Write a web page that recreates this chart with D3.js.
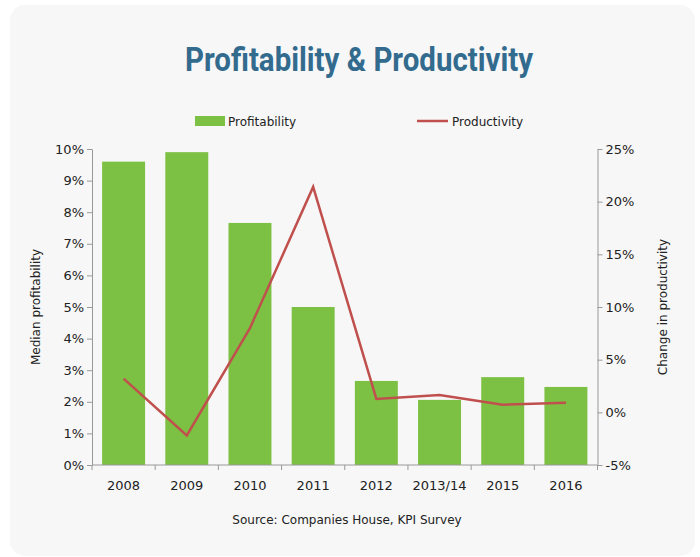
<!DOCTYPE html>
<html>
<head>
<meta charset="utf-8">
<script src="https://cdn.jsdelivr.net/npm/d3@7"></script>
<style>
  body { margin: 0; background: #ffffff; }
  .axis text { font-family: "DejaVu Sans", sans-serif; font-size: 13px; fill: #222; }
  .axis path, .axis line { stroke: #999; }
</style>
</head>
<body>
<div id="chart"></div>
<script>
// chart data
var years = ["2008", "2009", "2010", "2011", "2012", "2013/14", "2015", "2016"];
var profitability = [9.6, 9.9, 7.66, 5.0, 2.66, 2.06, 2.78, 2.47];   // % (left axis)
var productivity = [3.2, -2.2, 8.0, 21.4, 1.27, 1.65, 0.73, 0.92];   // % change (right axis)
var leftTicks = [0, 1, 2, 3, 4, 5, 6, 7, 8, 9, 10];
var rightTicks = [-5, 0, 5, 10, 15, 20, 25];

function init() {
    var w = 700, h = 557;
    var left = 92, right = 597.5, top = 149, bottom = 465;

    var svg = d3.select("#chart").append("svg")
        .attr("width", w)
        .attr("height", h);

    // card background
    svg.append("rect")
        .attr("x", 10).attr("y", 5)
        .attr("width", 685).attr("height", 551)
        .attr("rx", 15)
        .attr("fill", "#f7f7f7");

    // title
    svg.append("text")
        .attr("x", 359).attr("y", 71)
        .attr("text-anchor", "middle")
        .attr("textLength", 348)
        .attr("lengthAdjust", "spacingAndGlyphs")
        .style("font-family", "'Liberation Sans Narrow', 'Roboto', sans-serif")
        .style("font-weight", "bold")
        .style("font-size", "33px")
        .style("fill", "#336b8f")
        .text("Profitability & Productivity");

    // scales
    var x = d3.scaleBand()
        .domain(years)
        .range([left, right])
        .paddingInner(0.32)
        .paddingOuter(0.16);

    var yL = d3.scaleLinear().domain([0, 10]).range([bottom, top]);
    var yR = d3.scaleLinear().domain([-5, 25]).range([bottom, top]);

    // bars
    svg.selectAll(".bar")
        .data(years)
        .enter().append("rect")
        .attr("class", "bar")
        .attr("x", function (d) { return x(d); })
        .attr("width", x.bandwidth())
        .attr("y", function (d, i) { return yL(profitability[i]); })
        .attr("height", function (d, i) { return yL(0) - yL(profitability[i]); })
        .attr("fill", "#7cc143");

    // productivity line
    var line = d3.line()
        .x(function (d, i) { return x(years[i]) + x.bandwidth() / 2; })
        .y(function (d) { return yR(d); });

    svg.append("path")
        .datum(productivity)
        .attr("d", line)
        .attr("fill", "none")
        .attr("stroke", "#c0504d")
        .attr("stroke-width", 2.5);

    // left axis
    var yAxisL = d3.axisLeft(yL)
        .tickValues(leftTicks)
        .tickSize(5)
        .tickSizeOuter(0)
        .tickFormat(function (d) { return d + "%"; });
    svg.append("g")
        .attr("class", "axis")
        .attr("transform", "translate(" + left + ",0)")
        .call(yAxisL);

    // right axis
    var yAxisR = d3.axisRight(yR)
        .tickValues(rightTicks)
        .tickSize(5)
        .tickSizeOuter(0)
        .tickFormat(function (d) { return d + "%"; });
    svg.append("g")
        .attr("class", "axis")
        .attr("transform", "translate(" + right + ",0)")
        .call(yAxisR);

    // bottom axis: labels at band centres, ticks on band boundaries
    var xAxis = d3.axisBottom(x).tickSize(0).tickPadding(16);
    var gx = svg.append("g")
        .attr("class", "axis")
        .attr("transform", "translate(0," + bottom + ")")
        .call(xAxis);
    gx.select(".domain").attr("d", "M" + left + ",0H" + right);

    var bounds = d3.range(years.length + 1).map(function (i) { return left + i * x.step(); });
    gx.selectAll(".bound")
        .data(bounds)
        .enter().append("line")
        .attr("class", "bound")
        .attr("x1", function (d) { return d; })
        .attr("x2", function (d) { return d; })
        .attr("y1", 0).attr("y2", 5)
        .attr("stroke", "#999");

    // axis titles
    svg.append("text")
        .attr("transform", "translate(40,307) rotate(-90)")
        .attr("text-anchor", "middle")
        .style("font-family", "'DejaVu Sans', sans-serif")
        .style("font-size", "12px")
        .style("fill", "#222")
        .text("Median profitability");

    svg.append("text")
        .attr("transform", "translate(667,307) rotate(-90)")
        .attr("text-anchor", "middle")
        .style("font-family", "'DejaVu Sans', sans-serif")
        .style("font-size", "12px")
        .style("fill", "#222")
        .text("Change in productivity");

    // legend
    var legend = svg.append("g")
        .style("font-family", "'DejaVu Sans', sans-serif")
        .style("font-size", "12px")
        .style("fill", "#222");
    legend.append("rect")
        .attr("x", 195).attr("y", 116)
        .attr("width", 30).attr("height", 10)
        .attr("fill", "#7cc143");
    legend.append("text")
        .attr("x", 228).attr("y", 125.5)
        .text("Profitability");
    legend.append("line")
        .attr("x1", 417).attr("x2", 448)
        .attr("y1", 121).attr("y2", 121)
        .attr("stroke", "#c0504d")
        .attr("stroke-width", 2.5);
    legend.append("text")
        .attr("x", 452).attr("y", 125.5)
        .text("Productivity");

    // source
    svg.append("text")
        .attr("x", 347).attr("y", 524)
        .attr("text-anchor", "middle")
        .style("font-family", "'DejaVu Sans', sans-serif")
        .style("font-size", "12px")
        .style("fill", "#222")
        .text("Source: Companies House, KPI Survey");
}

window.onload = init;
</script>
</body>
</html>
